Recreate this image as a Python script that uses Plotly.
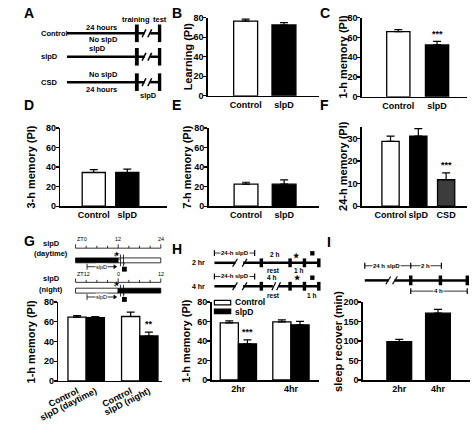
import plotly.graph_objects as go

W, H = 473, 427
FONT = "Liberation Sans, Arial, sans-serif"

# ---------------- data ----------------
cats_2 = ["Control", "slpD"]
learning = [76.5, 72.5]
learning_err = [2.0, 2.5]
mem1h = [66.0, 52.5]
mem1h_err = [2.0, 3.5]
mem3h = [34.5, 34.5]
mem3h_err = [3.0, 3.5]
mem7h = [22.5, 22.5]
mem7h_err = [2.0, 4.5]
cats_F = ["Control", "slpD", "CSD"]
mem24h = [28.7, 31.0, 11.7]
mem24h_err = [2.3, 3.3, 3.0]
G_groups = ["daytime", "night"]
G_ticklabels = ["Control", "slpD (daytime)", "Control", "slpD (night)"]
G_control = [64.5, 65.2]
G_control_err = [1.5, 4.5]
G_slpd = [64.0, 45.5]
G_slpd_err = [1.2, 4.0]
H_groups = ["2hr", "4hr"]
H_control = [58.5, 59.5]
H_control_err = [2.0, 2.0]
H_slpd = [37.0, 56.5]
H_slpd_err = [4.0, 3.5]
I_cats = ["2hr", "4hr"]
I_recover = [98.0, 171.0]
I_recover_err = [6.0, 10.0]

WHITE, BLACK, DARK = "white", "black", "#3c3c3c"

fig = go.Figure()
shapes, annos = [], []


def px(x):
    return x / W


def py(y):
    return 1 - y / H


def T(x, y, s, size=7.5, xanchor="center", bold=True, bg=None, angle=0):
    d = dict(x=px(x), y=py(y), xref="paper", yref="paper", text=s, showarrow=False,
             xanchor=xanchor, yanchor="middle", textangle=angle, borderpad=0,
             font=dict(family=FONT, size=size, color="black", weight="bold" if bold else "normal"))
    if bg:
        d["bgcolor"] = bg
    annos.append(d)


def L(x0, y0, x1, y1, w=1.0, dash=None):
    shapes.append(dict(type="line", xref="paper", yref="paper", x0=px(x0), y0=py(y0), x1=px(x1), y1=py(y1),
                       line=dict(color="black", width=w, dash=dash or "solid")))


def R(x0, y0, x1, y1, fill="black", lw=0.8):
    shapes.append(dict(type="rect", xref="paper", yref="paper", x0=px(x0), y0=py(y0), x1=px(x1), y1=py(y1),
                       fillcolor=fill, line=dict(color="black", width=lw)))


def tri(x, y, d=1):
    shapes.append(dict(type="path", xref="paper", yref="paper",
                       path=f"M {px(x)} {py(y)} L {px(x - 3 * d)} {py(y - 2)} L {px(x - 3 * d)} {py(y + 2)} Z",
                       fillcolor="black", line=dict(color="black", width=0.5)))


# --------------- axes helpers ---------------
def axis_setup(n, xdom, ydom, xrange, yrange, yticks, xtype="category", tickvals=None, ticktext=None, tickangle=0):
    xs = "xaxis" if n == 1 else f"xaxis{n}"
    ys = "yaxis" if n == 1 else f"yaxis{n}"
    xa = dict(domain=[px(xdom[0]), px(xdom[1])], range=xrange, showline=True, linecolor="black",
              linewidth=1.5, ticks="", showgrid=False, zeroline=False, fixedrange=True,
              anchor=f"y{'' if n == 1 else n}", type=xtype, tickangle=tickangle,
              tickfont=dict(family=FONT, size=9, color="black", weight="bold"))
    if tickvals is not None:
        xa["tickvals"] = tickvals
        xa["ticktext"] = ticktext
        xa["tickmode"] = "array"
    ya = dict(domain=[py(ydom[1]), py(ydom[0])], range=yrange, showline=True, linecolor="black",
              linewidth=1.5, ticks="outside", ticklen=3, tickwidth=1.3, tickcolor="black",
              tickvals=yticks, showgrid=False, zeroline=False, fixedrange=True,
              anchor=f"x{'' if n == 1 else n}", ticklabelstandoff=-2,
              tickfont=dict(family=FONT, size=9, color="black", weight="bold"))
    fig.update_layout(**{xs: xa, ys: ya})


def refs(n):
    return ("x", "y") if n == 1 else (f"x{n}", f"y{n}")


def err(arr):
    return dict(type="data", array=arr, arrayminus=[0] * len(arr), symmetric=False,
                color="black", thickness=1.2, width=4)


def bars(n, x, y, e, colors, width, offset=None):
    xr, yr = refs(n)
    b = go.Bar(x=x, y=y, width=width, error_y=err(e), xaxis=xr, yaxis=yr,
               marker=dict(color=colors, line=dict(color="black", width=1.3)), showlegend=False)
    if offset is not None:
        b.offset = offset
    fig.add_trace(b)


def stars(n, x, y, s):
    xr, yr = refs(n)
    annos.append(dict(x=x, y=y, xref=xr, yref=yr, text=s, showarrow=False, yanchor="bottom",
                      font=dict(family=FONT, size=9, color="black", weight="bold")))


def ytitle(x, y, s):
    T(x, y, s, size=11, angle=-90)


# ---- B ----
axis_setup(1, (196, 312), (13, 93), [-0.99, 1.91], [0, 80], [0, 20, 40, 60, 80])
bars(1, cats_2, learning, learning_err, [WHITE, BLACK], 0.625)
ytitle(175, 53, "Learning (PI)")
# ---- C ----
axis_setup(2, (357, 467), (13, 94), [-0.94, 1.78], [0, 80], [0, 20, 40, 60, 80])
bars(2, cats_2, mem1h, mem1h_err, [WHITE, BLACK], 0.6)
stars(2, cats_2[1], mem1h[1] + mem1h_err[1] + 0.5, "***")
ytitle(337, 53, "1-h memory (PI)")
# ---- D ----
axis_setup(3, (42, 153), (126, 206), [-1.0, 2.17], [0, 80], [0, 20, 40, 60, 80])
bars(3, cats_2, mem3h, mem3h_err, [WHITE, BLACK], 0.69)
ytitle(12, 166, "3-h memory (PI)")
# ---- E ----
axis_setup(4, (197, 312), (126, 206), [-0.98, 1.91], [0, 80], [0, 20, 40, 60, 80])
bars(4, cats_2, mem7h, mem7h_err, [WHITE, BLACK], 0.625)
ytitle(175, 166, "7-h memory (PI)")
# ---- F ----
axis_setup(5, (357, 467), (125, 206), [-1.03, 2.76], [0, 35], [0, 10, 20, 30])
bars(5, cats_F, mem24h, mem24h_err, [WHITE, BLACK, DARK], 0.62)
stars(5, cats_F[2], mem24h[2] + mem24h_err[2] + 0.3, "***")
ytitle(337, 165, "24-h memory (PI)")
# ---- G ----
wG = 0.34
gx = list(range(len(G_groups)))
tvG = []
for g in gx:
    tvG += [g - wG / 2, g + wG / 2]
axis_setup(6, (40, 148), (304, 385), [-0.52, 1.41], [0, 80], [0, 20, 40, 60, 80], xtype="linear",
           tickvals=tvG, ticktext=G_ticklabels, tickangle=-27)
bars(6, gx, G_control, G_control_err, WHITE, wG, offset=-wG)
bars(6, gx, G_slpd, G_slpd_err, BLACK, wG, offset=0)
stars(6, gx[1] + wG / 2, G_slpd[1] + G_slpd_err[1] + 1, "**")
ytitle(11, 345, "1-h memory (PI)")
# ---- H ----
wH = 0.345
hx = list(range(len(H_groups)))
axis_setup(7, (200, 312), (304, 384), [-0.51, 1.53], [0, 80], [0, 20, 40, 60, 80], xtype="linear",
           tickvals=hx, ticktext=H_groups)
bars(7, hx, H_control, H_control_err, WHITE, wH, offset=-wH)
bars(7, hx, H_slpd, H_slpd_err, BLACK, wH, offset=0)
stars(7, hx[0] + wH / 2, H_slpd[0] + H_slpd_err[0] + 1, "***")
ytitle(173, 344, "1-h memory (PI)")
# legend H
R(203, 302.5, 220, 307, WHITE, 1.2)
T(223, 304.5, "Control", 8.5, xanchor="left")
R(203, 311.5, 220, 316, BLACK, 1.2)
T(223, 314, "slpD", 8.5, xanchor="left")
# ---- I ----
axis_setup(8, (358, 470), (304, 384), [-0.94, 1.83], [0, 200], [0, 50, 100, 150, 200])
bars(8, I_cats, I_recover, I_recover_err, [BLACK, BLACK], 0.64)
ytitle(332, 344, "sleep recover (min)")

# ---------------- panel letters ----------------
for x, y, s in [(3, 8, "A"), (158, 8, "B"), (312, 8, "C"), (3, 102, "D"), (158, 102, "E"),
                (312, 102, "F"), (3, 242, "G"), (158, 250, "H"), (320, 243, "I")]:
    T(x, y, s, 14, xanchor="left")

# ---------------- schematic A ----------------
for y, name in [(29, "Control"), (53, "slpD"), (79, "CSD")]:
    T(21, y, name, 7.5, xanchor="left")
    L(49, y, 130, y, 2.5)
    L(136, y, 145, y, 2.5)
    R(120, y - 9, 124, y + 9, BLACK, 0)
    R(144, y - 9, 147.5, y + 9, BLACK, 0)
    L(127.5, y + 4, 131.5, y - 4, 1.5)
    L(133.5, y + 4, 137.5, y - 4, 1.5)
T(121, 15, "training")
T(146, 15, "test")
T(85, 23, "24 hours")
T(87, 35, "No slpD")
T(81, 45, "slpD")
T(87, 71, "No slpD")
T(85, 87, "24 hours")
T(134, 93, "slpD")

# ---------------- schematic G ----------------
def ruler(y, lab0, lab1, lab2):
    L(58, y, 147, y, 0.8)
    for k in range(9):
        x = 58 + k * (147 - 58) / 8
        L(x, y, x, y - (4 if k % 4 == 0 else 2.5), 0.8)
    T(58, y - 9, lab0, 5.5, xanchor="left", bold=False)
    T(102.5, y - 9, lab1, 5.5, bold=False)
    T(147, y - 9, lab2, 5.5, bold=False)


T(33, 244, "slpD", 7.5)
T(32, 254, "(daytime)", 7.5)
ruler(249, "ZT0", "12", "24")
R(58, 259, 102.5, 264, BLACK, 0.8)
R(102.5, 259, 147, 264, WHITE, 0.8)
T(33, 280, "slpD", 7.5)
T(32, 291, "(night)", 7.5)
ruler(284, "ZT12", "0", "12")
R(58, 290, 102.5, 295, WHITE, 0.8)
R(102.5, 290, 147, 295, BLACK, 0.8)
for yb, ya in [(261.5, 268), (292.5, 299)]:
    T(101, yb - 7, "★", 6)
    L(105, yb - 6, 105, yb + 6, 0.8)
    L(108, yb - 6, 108, yb + 6, 0.8)
    L(98, yb - 6, 112, yb + 6, 0.6, dash="dot")
    L(70, ya, 100, ya, 0.8)
    L(70, ya - 3, 70, ya + 3, 0.8)
    tri(101, ya)
    T(85, ya, "slpD", 5.5, bold=False, bg="white")
    R(106.5, ya, 111.5, ya + 5, BLACK, 0)

# ---------------- schematic H ----------------
def dim(x0, x1, y, mids=()):
    L(x0, y, x1, y, 0.8)
    for x in (x0, x1) + tuple(mids):
        L(x, y - 3, x, y + 3, 1.2)


for yr, lab, ydim in [(264, "2 hr", 254), (288, "4 hr", 278)]:
    T(186, yr, lab, 7)
    dim(203, 245, ydim)
    T(224, ydim, "24-h slpD", 6, bg="white")
    L(203, yr, 225, yr, 2.5)
    L(233, yr, 313, yr, 2.5)
    L(222, yr + 4, 227, yr - 4, 1.2)
    L(232, yr + 4, 237, yr - 4, 1.2)
    for xb in (252, 282, 297, 312):
        R(xb - 1.8, yr - 4.5, xb + 1.8, yr + 4.5, BLACK, 0)
# 4hr extra break
shapes.append(dict(type="rect", xref="paper", yref="paper", x0=px(264), y0=py(290), x1=px(270), y1=py(286),
                   fillcolor="white", line=dict(width=0)))
L(263, 292, 267, 284, 1.2)
L(268, 292, 272, 284, 1.2)
T(266, 255, "2 h", 6.5)
T(289, 256, "★", 7)
R(303, 252, 307.5, 256.5, BLACK, 0)
T(265, 272, "rest", 6.5)
T(291, 272, "1 h", 6.5)
T(263, 279, "4 h", 6.5)
T(290, 279, "★", 7)
R(303, 277, 307.5, 281.5, BLACK, 0)
T(265, 297, "rest", 6.5)
T(304, 297, "1 h", 6.5)

# ---------------- schematic I ----------------
dim(360, 440, 267, mids=(408,))
T(383, 267, "24 h slpD", 6, bg="white")
T(423, 267, "2 h", 6, bg="white")
L(360, 282, 385, 282, 2.5)
L(391, 282, 468, 282, 2.5)
L(382, 286, 387, 278, 1.2)
L(389, 286, 394, 278, 1.2)
for xb in (408, 439, 467):
    R(xb - 1.8, 277, xb + 1.8, 287, BLACK, 0)
dim(408, 467, 293)
T(437, 293, "4 h", 6, bg="white")

fig.update_layout(width=W, height=H, margin=dict(l=0, r=0, t=0, b=0), autosize=False,
                  paper_bgcolor="white", plot_bgcolor="white", showlegend=False,
                  barmode="overlay", shapes=shapes, annotations=annos,
                  font=dict(family=FONT, color="black"))
fig.write_html("out.html", config={"displayModeBar": False, "staticPlot": True},
               post_script="document.body.style.margin='0';document.body.style.overflow='hidden';")
